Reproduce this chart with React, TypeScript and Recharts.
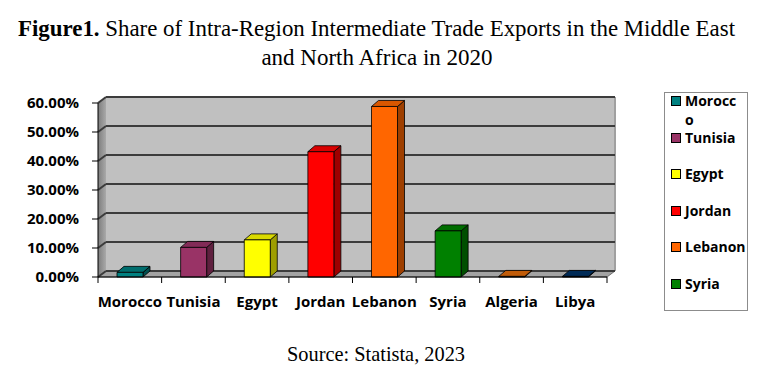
import React from 'react';
import { BarChart, Bar, XAxis, YAxis, CartesianGrid } from 'recharts';

// data
const categories = ['Morocco', 'Tunisia', 'Egypt', 'Jordan', 'Lebanon', 'Syria', 'Algeria', 'Libya'];
const shares = [0.016, 0.102, 0.128, 0.432, 0.588, 0.159, 0.002, 0.002];
const barColors = ['#008080', '#993366', '#ffff00', '#ff0000', '#ff6600', '#008000', '#e36c0a', '#003366'];
const yTicks = [0, 0.1, 0.2, 0.3, 0.4, 0.5, 0.6];
// the legend in the source is cut after Syria, and wraps Morocco
const legendLabels = ['Morocc\no', 'Tunisia', 'Egypt', 'Jordan', 'Lebanon', 'Syria'];

const W = 774;
const H = 382;
const X_AXIS_H = 30;
const MARGIN = { top: 103, right: 167, bottom: 75, left: 0 };
const Y_AXIS_W = 98;
const PLOT_L = MARGIN.left + Y_AXIS_W;
const PLOT_R = W - MARGIN.right;
const PLOT_T = MARGIN.top;
const PLOT_B = H - MARGIN.bottom - X_AXIS_H;
const BAND = (PLOT_R - PLOT_L) / categories.length;

// 3d depth of the wall / bars
const DX = 8;
const DY = -6;
const BAR_DX = 7;
const BAR_DY = -6;

const tickFont = "'Open Sans', sans-serif";

const data = categories.map((name, i) => ({ name, value: shares[i] }));

function shade(hex: string, f: number) {
    const n = parseInt(hex.slice(1), 16);
    const r = Math.round(((n >> 16) & 255) * f);
    const g = Math.round(((n >> 8) & 255) * f);
    const b = Math.round((n & 255) * f);
    return `rgb(${r},${g},${b})`;
}

const Box3D = (props: any) => {
    const { x, y, width, height, index } = props;
    const c = barColors[index];
    const h = Math.max(height, 0);
    return (
        <g stroke="#000" strokeWidth={0.8} strokeLinejoin="round">
            <polygon
                points={`${x + width},${y} ${x + width + BAR_DX},${y + BAR_DY} ${x + width + BAR_DX},${y + h + BAR_DY} ${x + width},${y + h}`}
                fill={shade(c, 0.62)}
            />
            <polygon
                points={`${x},${y} ${x + BAR_DX},${y + BAR_DY} ${x + width + BAR_DX},${y + BAR_DY} ${x + width},${y}`}
                fill={shade(c, 0.85)}
            />
            <rect x={x} y={y} width={width} height={h} fill={c} />
        </g>
    );
};

const GridLine = (p: any) => {
    return (
        <g key={p.key} stroke="#3c3c3c" strokeWidth={2}>
            <line x1={p.x1} y1={p.y1} x2={p.x1 + DX} y2={p.y1 + DY} />
            <line x1={p.x1 + DX} y1={p.y1 + DY} x2={p.x2 + DX} y2={p.y2 + DY} />
        </g>
    );
};

const XTick = (props: any) => {
    const { x, payload } = props;
    const left = x - BAND / 2;
    const last = payload.index === categories.length - 1;
    return (
        <g>
            <line x1={left} y1={PLOT_B} x2={left} y2={PLOT_B + 6} stroke="#000" />
            {last && <line x1={left + BAND} y1={PLOT_B} x2={left + BAND} y2={PLOT_B + 6} stroke="#000" />}
            <text x={x} y={PLOT_B + 30} textAnchor="middle" fontFamily={tickFont} fontWeight={700} fontSize={15} fill="#000">
                {payload.value}
            </text>
        </g>
    );
};

function Walls() {
    return (
        <svg width={W} height={H} style={{ position: 'absolute', left: 0, top: 0 }}>
            <defs>
                <linearGradient id="side" x1="0" y1="0" x2="1" y2="0">
                    <stop offset="0%" stopColor="#7d7d7d" />
                    <stop offset="100%" stopColor="#a9a9a9" />
                </linearGradient>
            </defs>
            <rect x={PLOT_L + DX} y={PLOT_T + DY} width={PLOT_R - PLOT_L} height={PLOT_B - PLOT_T} fill="#c0c0c0" />
            <line x1={PLOT_R + DX} y1={PLOT_T + DY} x2={PLOT_R + DX} y2={PLOT_B + DY} stroke="#a0a0a0" strokeWidth={2} />
            <polygon
                points={`${PLOT_L},${PLOT_T} ${PLOT_L + DX},${PLOT_T + DY} ${PLOT_L + DX},${PLOT_B + DY} ${PLOT_L},${PLOT_B}`}
                fill="url(#side)"
            />
            <polygon
                points={`${PLOT_L},${PLOT_B} ${PLOT_L + DX},${PLOT_B + DY} ${PLOT_R + DX},${PLOT_B + DY} ${PLOT_R},${PLOT_B}`}
                fill="#a3a3a3"
                stroke="#555"
                strokeWidth={0.8}
            />
        </svg>
    );
}

function Texts() {
    return (
        <svg width={W} height={H} style={{ position: 'absolute', left: 0, top: 0, pointerEvents: 'none' }}>
            <text
                x={18}
                y={36}
                fontFamily="'Liberation Serif', 'Times New Roman', serif"
                fontSize={23}
                fill="#000"
                textLength={717}
                lengthAdjust="spacingAndGlyphs"
            >
                <tspan fontWeight={700}>Figure1.</tspan>
                <tspan> Share of Intra-Region Intermediate Trade Exports in the Middle East</tspan>
            </text>
            <text
                x={377}
                y={65}
                textAnchor="middle"
                fontFamily="'Liberation Serif', 'Times New Roman', serif"
                fontSize={23}
                fill="#000"
            >
                and North Africa in 2020
            </text>
            <text
                x={376}
                y={361}
                textAnchor="middle"
                fontFamily="'Liberation Serif', 'Times New Roman', serif"
                fontSize={21}
                fill="#000"
                textLength={178}
                lengthAdjust="spacingAndGlyphs"
            >
                Source: Statista, 2023
            </text>
        </svg>
    );
}

function LegendBox() {
    return (
        <div
            style={{
                position: 'absolute',
                left: 664,
                top: 92,
                width: 84,
                height: 219,
                border: '1px solid #8c8c8c',
                boxSizing: 'border-box',
                background: '#fff',
                fontFamily: tickFont,
                fontWeight: 700,
                fontSize: 14,
            }}
        >
            {legendLabels.map((label, i) => (
                <div key={i} style={{ position: 'absolute', left: 6, top: i * 36.6 - 2, display: 'flex', alignItems: 'flex-start' }}>
                    <span
                        style={{
                            width: 8,
                            height: 8,
                            marginTop: 5,
                            marginRight: 4,
                            border: '1px solid #000',
                            background: barColors[i],
                            flex: 'none',
                        }}
                    />
                    <span style={{ whiteSpace: 'pre-line', lineHeight: '19px', color: '#000' }}>{label}</span>
                </div>
            ))}
        </div>
    );
}

export default function App() {
    return (
        <div style={{ position: 'absolute', left: 0, top: 0, width: W, height: H, background: '#fff', overflow: 'hidden' }}>
            <Walls />
            <div style={{ position: 'absolute', left: 0, top: 0 }}>
                <BarChart width={W} height={H} data={data} margin={MARGIN}>
                    <CartesianGrid vertical={false} horizontal={GridLine} />
                    <XAxis
                        dataKey="name"
                        height={X_AXIS_H}
                        tick={<XTick />}
                        tickLine={false}
                        axisLine={{ stroke: '#000' }}
                        interval={0}
                    />
                    <YAxis
                        width={Y_AXIS_W}
                        domain={[0, 0.6]}
                        ticks={yTicks}
                        tickFormatter={(v: number) => `${(v * 100).toFixed(2)}%`}
                        tickSize={6}
                        tickMargin={13}
                        axisLine={{ stroke: '#000' }}
                        tickLine={{ stroke: '#000' }}
                        tick={{ fontFamily: tickFont, fontWeight: 700, fontSize: 15, fill: '#000' }}
                    />
                    <Bar dataKey="value" barSize={26} shape={Box3D} isAnimationActive={false} />
                </BarChart>
            </div>
            <LegendBox />
            <Texts />
        </div>
    );
}
